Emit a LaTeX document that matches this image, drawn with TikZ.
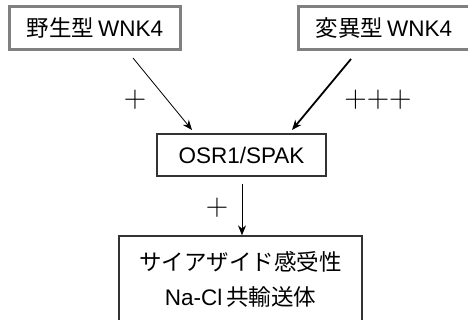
\documentclass[tikz,border=0pt]{standalone}
\usepackage{fontspec}
\usepackage{graphicx}
\setmainfont{Liberation Sans}
\newfontfamily\jp{Noto Sans CJK JP}
\usetikzlibrary{arrows.meta}
\begin{document}
\begin{tikzpicture}[x=1pt,y=-1pt,
  graybox/.style={draw=black!50,line width=3pt,inner sep=0pt,font=\fontsize{22.5}{27}\selectfont},
  blackbox/.style={draw=black!80,line width=1.3pt,inner sep=0pt,font=\fontsize{22.5}{35}\selectfont},
  lbl/.style={font=\fontsize{20}{22}\selectfont,inner sep=0pt},
  arr/.style={-{Stealth[length=10pt,width=8pt]},line width=0.8pt}]
\useasboundingbox (0,0) rectangle (468,320);
\clip (0,0) rectangle (468,320);
\node[graybox,minimum width=171pt,minimum height=43pt] (wt) at (95,28) {{\jp 野生型}\,WNK4};
\node[graybox,minimum width=171pt,minimum height=43pt] (mt) at (384,28) {{\jp 変異型}\,WNK4};
\node[blackbox,minimum width=169pt,minimum height=42pt] (osr) at (241.5,155) {OSR1/SPAK};
\node[blackbox,minimum width=243pt,minimum height=87pt,align=center] (ncc) at (240.5,279.5)
  {{\jp サイアザイド感受性}\\ Na-Cl\,{\jp 共輸送体}};
\coordinate (a1) at (133,58);
\coordinate (b1) at (192,130);
\coordinate (a2) at (351,59);
\coordinate (b2) at (292,130);
\draw[arr] (a1) -- (b1);
\draw[arr,line width=1.8pt] (a2) -- (b2);
\draw[arr] (osr.south -| 242,0) ++(0,7) coordinate (c1) -- (ncc.north -| 242,0) coordinate (c2);
\node[lbl] (p1) at (135,100) {\scalebox{1.5}{$+$}};
\node[lbl] (p2) at (378,100) {\scalebox{1.5}{${+}{+}{+}$}};
\node[lbl] (p3) at (217,208) {\scalebox{1.5}{$+$}};
\end{tikzpicture}
\end{document}
